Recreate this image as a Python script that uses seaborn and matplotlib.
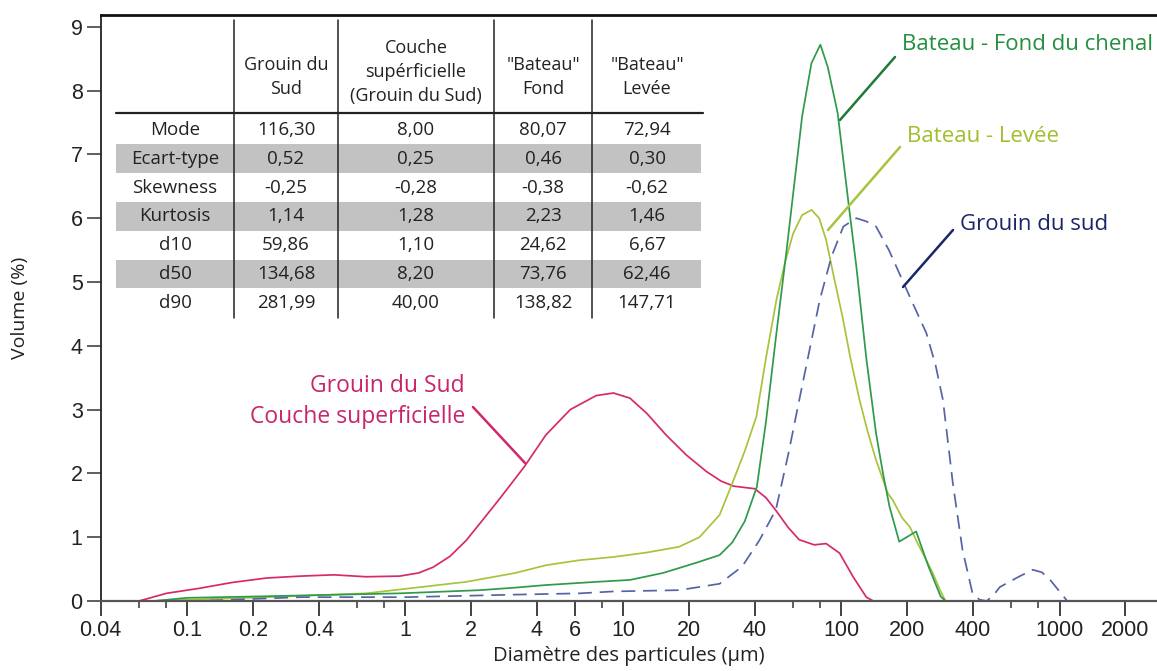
import matplotlib
matplotlib.use("Agg")
import matplotlib.pyplot as plt
import seaborn as sns
import pandas as pd
from matplotlib.ticker import FixedLocator, FixedFormatter, NullFormatter
from matplotlib.lines import Line2D
from matplotlib.patches import Rectangle

# --- courbes granulométriques ---
couche_x = [0.04, 0.06, 0.08, 0.114, 0.16, 0.23, 0.33, 0.47, 0.66, 0.94, 1.15, 1.34, 1.6, 1.9,
            2.2, 2.7, 3.5, 4.4, 5.7, 7.5, 9.0, 10.7, 12.8, 15.7, 19.4, 24, 28, 32, 40, 45, 50,
            57, 64, 75, 85, 98, 113, 130, 140, 2800]
couche_y = [0, 0, 0.12, 0.2, 0.29, 0.36, 0.39, 0.41, 0.38, 0.39, 0.44, 0.53, 0.7, 0.95, 1.22,
            1.6, 2.1, 2.6, 3.0, 3.22, 3.26, 3.18, 2.94, 2.6, 2.29, 2.03, 1.88, 1.8, 1.76, 1.62,
            1.42, 1.15, 0.96, 0.88, 0.9, 0.75, 0.38, 0.06, 0, 0]

fond_x = [0.04, 0.07, 0.1, 0.2, 0.5, 0.94, 2.2, 3.2, 4.4, 7.5, 10.7, 15.2, 21.6, 27.6, 31.6, 36,
          40.9, 45, 50.3, 56, 62, 66, 72.8, 80, 86.5, 96, 108, 117, 130, 144, 155, 166, 184, 220,
          250, 285, 300, 2800]
fond_y = [0, 0, 0.05, 0.07, 0.1, 0.12, 0.17, 0.21, 0.25, 0.3, 0.33, 0.44, 0.6, 0.72, 0.92, 1.25,
          1.79, 2.8, 4.2, 5.5, 6.8, 7.6, 8.43, 8.72, 8.37, 7.65, 6.2, 5.24, 3.8, 2.63, 2.0, 1.48,
          0.93, 1.09, 0.55, 0.07, 0, 0]

levee_x = [0.04, 0.07, 0.1, 0.23, 0.66, 1.9, 3.2, 4.4, 6.3, 9, 12.8, 18, 22.3, 27.6, 31.6, 36,
           40.7, 45, 50.3, 55, 60, 66, 72.9, 79, 85, 92, 101, 110, 121, 132, 144, 163, 172, 190,
           206, 220, 245, 262, 285, 300, 2800]
levee_y = [0, 0, 0.02, 0.06, 0.12, 0.3, 0.44, 0.56, 0.64, 0.69, 0.76, 0.85, 1.0, 1.35, 1.85,
           2.35, 2.89, 3.8, 4.72, 5.3, 5.76, 6.05, 6.13, 6.0, 5.66, 5.1, 4.46, 3.8, 3.15, 2.65,
           2.21, 1.69, 1.58, 1.3, 1.16, 0.95, 0.64, 0.44, 0.15, 0, 0]

sud_x = [0.04, 0.11, 0.33, 1.0, 3.2, 6.3, 9, 18, 22.3, 27.6, 35, 42, 50, 57, 64, 72, 79.5, 90,
         102, 117, 130, 144, 165, 184, 210, 245, 270, 292, 324, 359, 399, 430, 464, 500, 533,
         650, 753, 830, 906, 1000, 1085, 2800]
sud_y = [0, 0, 0.06, 0.06, 0.1, 0.12, 0.15, 0.17, 0.22, 0.27, 0.54, 0.95, 1.43, 2.3, 3.15, 4.0,
         4.72, 5.4, 5.87, 6.0, 5.95, 5.87, 5.5, 5.14, 4.7, 4.2, 3.7, 3.15, 1.85, 0.8, 0.12, 0.02,
         0, 0.1, 0.22, 0.38, 0.49, 0.45, 0.33, 0.15, 0, 0]

# --- tableau des paramètres ---
row_labels = ['Mode', 'Ecart-type', 'Skewness', 'Kurtosis', 'd10', 'd50', 'd90']
col_headers = ['Grouin du\nSud', 'Couche\nsupérficielle\n(Grouin du Sud)', '"Bateau"\nFond',
               '"Bateau"\nLevée']
col_grouin = ['116,30', '0,52', '-0,25', '1,14', '59,86', '134,68', '281,99']
col_couche = ['8,00', '0,25', '-0,28', '1,28', '1,10', '8,20', '40,00']
col_fond = ['80,07', '0,46', '-0,38', '2,23', '24,62', '73,76', '138,82']
col_levee = ['72,94', '0,30', '-0,62', '1,46', '6,67', '62,46', '147,71']

x_major = [0.04, 0.1, 0.2, 0.4, 1, 2, 4, 6, 10, 20, 40, 100, 200, 400, 1000, 2000]
x_major_labels = ['0.04', '0.1', '0.2', '0.4', '1', '2', '4', '6', '10', '20', '40', '100',
                  '200', '400', '1000', '2000']
x_minor = [0.06, 0.08, 0.6, 0.8, 8, 60, 80, 600, 800]

PINK = '#d62a6c'
DKGREEN = '#2f9a4c'
LTGREEN = '#a6c43c'
BLUE = '#5664a6'

sns.set_theme(style='ticks')
plt.rcParams['font.family'] = ['Open Sans', 'DejaVu Sans']

W, H = 1157, 671
fig = plt.figure(figsize=(W / 100, H / 100), dpi=100)


def fx(px):
    return px / W


def fy(py):
    return 1 - py / H


ax = fig.add_axes([fx(100.7), fy(601), fx(1157) - fx(100.7), fy(15) - fy(601)])

series = [
    (couche_x, couche_y, PINK),
    (levee_x, levee_y, LTGREEN),
    (fond_x, fond_y, DKGREEN),
    (sud_x, sud_y, BLUE),
]
for xs, ys, col in series:
    sns.lineplot(x=xs, y=ys, ax=ax, color=col, lw=1.25, estimator=None, sort=False)
ax.lines[-1].set_linestyle((0, (8, 4.5)))

ax.set_xscale('log')
ax.set_xlim(0.04, 2800)
ax.set_ylim(0, 9.185)
ax.xaxis.set_major_locator(FixedLocator(x_major))
ax.xaxis.set_major_formatter(FixedFormatter(x_major_labels))
ax.xaxis.set_minor_locator(FixedLocator(x_minor))
ax.xaxis.set_minor_formatter(NullFormatter())
ax.set_yticks(range(10))

for lab in ax.get_xticklabels() + ax.get_yticklabels():
    lab.set_family('Liberation Sans')
    lab.set_fontsize(15.5)
    lab.set_color('#222222')
ax.tick_params(axis='x', which='major', direction='out', length=11, width=1.3, color='#333333', pad=3)
ax.tick_params(axis='x', which='minor', direction='out', length=5, width=1.1, color='#333333')
ax.tick_params(axis='y', which='major', direction='out', length=10, width=1.1, color='#333333', pad=3)

ax.spines['right'].set_visible(False)
ax.spines['top'].set_linewidth(2)
ax.spines['top'].set_color('#111111')
ax.spines['left'].set_linewidth(1.3)
ax.spines['left'].set_color('#222222')
ax.spines['bottom'].set_linewidth(1.6)
ax.spines['bottom'].set_color('#555555')

ax.set_xlabel('Diamètre des particules (µm)', fontsize=14.5, color='#222222', labelpad=3.5)
ax.set_ylabel('Volume (%)', fontsize=14, color='#222222', labelpad=30)

# --- tableau ---
gray = '#c2c2c2'
row_y0, row_h = 130, 28.8
col_cx = [175, 286, 416, 543, 647]
for i in (1, 3, 5):
    yc = row_y0 + i * row_h
    fig.add_artist(Rectangle((fx(116), fy(yc + row_h / 2)), fx(701) - fx(116), row_h / H,
                             transform=fig.transFigure, facecolor=gray, edgecolor='none', zorder=1))
for xv in (234, 338, 494, 592):
    fig.add_artist(Line2D([fx(xv), fx(xv)], [fy(20), fy(318)], transform=fig.transFigure,
                          color='#222222', lw=1.1, zorder=2))
fig.add_artist(Line2D([fx(116), fx(703)], [fy(113), fy(113)], transform=fig.transFigure,
                      color='#222222', lw=1.6, zorder=2))

header_y = [77, 72, 77, 77]
for j, head in enumerate(col_headers):
    fig.text(fx(col_cx[j + 1]), fy(header_y[j]), head, ha='center', va='center', fontsize=13,
             color='#222222', linespacing=1.45, zorder=3)
columns = [row_labels, col_grouin, col_couche, col_fond, col_levee]
for j, col in enumerate(columns):
    for i, txt in enumerate(col):
        fig.text(fx(col_cx[j]), fy(row_y0 + i * row_h), txt, ha='center', va='center',
                 fontsize=13.5, color='#222222', zorder=3)

# --- annotations ---
leaders = [
    ((840, 120), (895, 57), '#1f7a36'),
    ((828, 230), (900, 147), LTGREEN),
    ((903, 287), (953, 230), '#1b2668'),
    ((473, 407), (525, 463), '#d0286a'),
]
for (x0, y0), (x1, y1), c in leaders:
    fig.add_artist(Line2D([fx(x0), fx(x1)], [fy(y0), fy(y1)], transform=fig.transFigure,
                          color=c, lw=1.8, zorder=3))

fig.text(fx(902), fy(45), 'Bateau - Fond du chenal', ha='left', va='center', fontsize=16,
         color='#23903f')
fig.text(fx(907), fy(137), 'Bateau - Levée', ha='left', va='center', fontsize=16,
         color='#9fbf2c')
fig.text(fx(960), fy(225), 'Grouin du sud', ha='left', va='center', fontsize=16,
         color='#1b2668')
fig.text(fx(465), fy(386), 'Grouin du Sud', ha='right', va='center', fontsize=16.5,
         color='#c8266a')
fig.text(fx(465), fy(417), 'Couche superficielle', ha='right', va='center', fontsize=16.5,
         color='#c8266a')

fig.savefig('out.png', dpi=100)
